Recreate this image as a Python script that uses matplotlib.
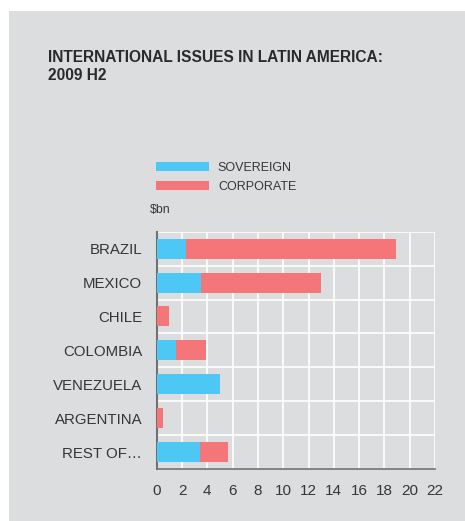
import numpy as np
import matplotlib.pyplot as plt
from matplotlib.patches import Patch, Rectangle

countries = ['BRAZIL', 'MEXICO', 'CHILE', 'COLOMBIA', 'VENEZUELA', 'ARGENTINA', 'REST OF…']
sovereign = [2.3, 3.5, 0.0, 1.5, 5.0, 0.0, 3.4]
corporate = [16.6, 9.5, 1.0, 2.4, 0.0, 0.5, 2.2]
x_ticks = list(range(0, 23, 2))

BG = '#dcdddf'
BLUE = '#4dc8f4'
RED = '#f47679'
TXT = '#363636'

plt.rcParams['font.family'] = ['Liberation Sans', 'DejaVu Sans']

fig = plt.figure(figsize=(4.65, 5.21), dpi=100)
fig.patch.set_facecolor('white')
# grey panel behind everything
fig.patches.append(Rectangle((9 / 465, 0), 1, 1 - 11 / 521, transform=fig.transFigure,
                             facecolor=BG, edgecolor='none', zorder=-10))

ax = fig.add_axes([156.7 / 465, (521 - 469) / 521, (435 - 156.7) / 465, (469 - 231.7) / 521])
ax.set_facecolor(BG)

y_pos = np.arange(len(countries))
ax.barh(y_pos, sovereign, height=0.59, color=BLUE, zorder=3)
ax.barh(y_pos, corporate, left=sovereign, height=0.59, color=RED, zorder=3)

ax.set_xlim(0, 22)
ax.set_ylim(len(countries) - 0.5, -0.5)
ax.set_xticks(x_ticks)
ax.set_yticks(y_pos)
ax.set_yticklabels(countries)
ax.set_yticks(np.arange(-0.5, len(countries), 1), minor=True)

ax.grid(True, axis='x', which='major', color='white', linewidth=1.2, zorder=1)
ax.grid(True, axis='y', which='minor', color='white', linewidth=1.2, zorder=1)
ax.tick_params(axis='both', which='both', length=0)
ax.tick_params(axis='x', labelsize=11, labelcolor=TXT, pad=10.5)
ax.tick_params(axis='y', labelsize=10.8, labelcolor=TXT, pad=10.5)

for s in ['top', 'right']:
    ax.spines[s].set_visible(False)
ax.spines['left'].set_color('#707173')
ax.spines['left'].set_linewidth(1.5)
ax.spines['bottom'].set_color('#707173')
ax.spines['bottom'].set_linewidth(1.2)

handles = [Patch(facecolor=BLUE, label='SOVEREIGN'), Patch(facecolor=RED, label='CORPORATE')]
fig.legend(handles=handles, loc='upper left', bbox_to_anchor=(156 / 465, 1 - 162 / 521),
           frameon=False, fontsize=9, handlelength=4.2, handleheight=0.66,
           labelspacing=0.55, handletextpad=0.75, borderpad=0, borderaxespad=0,
           labelcolor=TXT)

fig.text(150 / 465, 1 - 210 / 521, '\\$bn', fontsize=8.8, color=TXT, va='center', ha='left')

fig.text(48 / 465, 1 - 50 / 521, 'INTERNATIONAL ISSUES IN LATIN AMERICA:\n2009 H2',
         fontsize=11.2, fontweight='bold', color='#2a2a2a', va='top', ha='left',
         linespacing=1.25)

fig.savefig('out.png', dpi=100, facecolor='white')
